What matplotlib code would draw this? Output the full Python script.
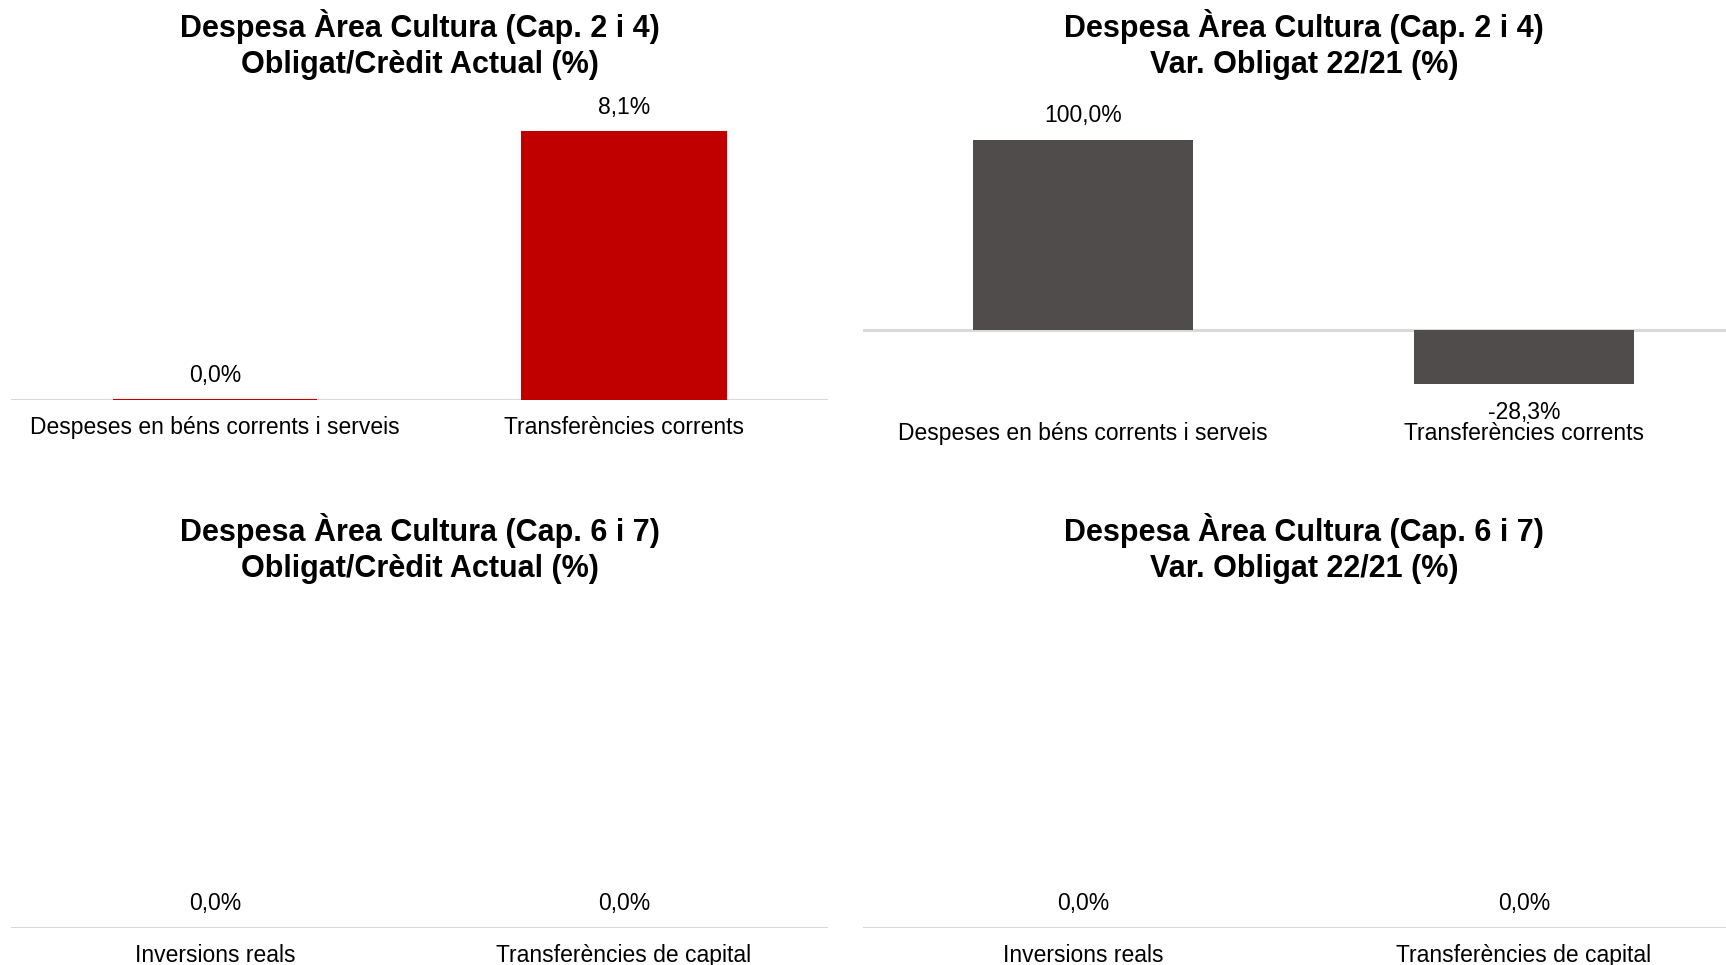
import matplotlib
matplotlib.use("Agg")
import matplotlib.pyplot as plt

plt.rcParams['font.family'] = ['Liberation Sans', 'DejaVu Sans']

# Data
cats_corrent = ["Despeses en béns corrents i serveis", "Transferències corrents"]
cats_capital = ["Inversions reals", "Transferències de capital"]

oblig_credit_corrent = [0.0, 8.1]
var_oblig_corrent = [100.0, -28.3]
oblig_credit_capital = [0.0, 0.0]
var_oblig_capital = [0.0, 0.0]

titles = [
    "Despesa Àrea Cultura (Cap. 2 i 4)\nObligat/Crèdit Actual (%)",
    "Despesa Àrea Cultura (Cap. 2 i 4)\nVar. Obligat 22/21 (%)",
    "Despesa Àrea Cultura (Cap. 6 i 7)\nObligat/Crèdit Actual (%)",
    "Despesa Àrea Cultura (Cap. 6 i 7)\nVar. Obligat 22/21 (%)",
]

RED = "#C00000"
GREY = "#504C4B"
AXIS_GREY = "#D9D9D9"

W, H = 1726, 965
fig = plt.figure(figsize=(W / 100, H / 100), dpi=100)


def px_axes(x0, x1, ytop, ybot):
    # axes from pixel coordinates (origin top-left)
    return fig.add_axes([x0 / W, 1 - ybot / H, (x1 - x0) / W, (ybot - ytop) / H])


def fmt(v):
    return f"{v:.1f}%".replace(".", ",")


def draw(ax, cats, vals, color, ylim, title, title_x, title_y, zero_edge=False):
    x = range(len(cats))
    lw = 1.5 if zero_edge else 0
    ax.bar(x, vals, width=0.5, color=color, edgecolor=color, linewidth=lw, zorder=3)
    ax.set_xlim(-0.5, len(cats) - 0.5)
    ax.set_ylim(*ylim)
    ax.axhline(0, color=AXIS_GREY, linewidth=2.2, zorder=1)
    for s in ax.spines.values():
        s.set_visible(False)
    ax.set_yticks([])
    ax.set_xticks(list(x))
    ax.set_xticklabels(cats, fontsize=16.5)
    ax.tick_params(axis='x', length=0, pad=11.5)
    for i, v in enumerate(vals):
        off = 17.6 if v >= 0 else -21
        ax.annotate(fmt(v), (i, v), xytext=(0, off), textcoords='offset points',
                    ha='center', va='center', fontsize=16.5)
    fig.text(title_x / W, 1 - title_y / H, title, ha='center', va='top',
             fontsize=22, fontweight='bold', linespacing=1.27)


# top-left: y=0 at 400px, 8.1 at 132px
ax1 = px_axes(11, 828, 102, 400)
draw(ax1, cats_corrent, oblig_credit_corrent, RED, (0, 9), titles[0], 420, 9, zero_edge=True)

# top-right: y=0 at 330px, 1.9 px per unit; plot area runs past the right edge
ax2 = px_axes(863, 1744, 121, 406)
draw(ax2, cats_corrent, var_oblig_corrent, GREY, (-40, 110), titles[1], 1304, 9)

# bottom row: zero line at 928px
ax3 = px_axes(11, 828, 620, 928)
draw(ax3, cats_capital, oblig_credit_capital, RED, (0, 1), titles[2], 420, 513)

ax4 = px_axes(863, 1744, 620, 928)
draw(ax4, cats_capital, var_oblig_capital, GREY, (0, 1), titles[3], 1304, 513)

fig.savefig("out.png", dpi=100)
